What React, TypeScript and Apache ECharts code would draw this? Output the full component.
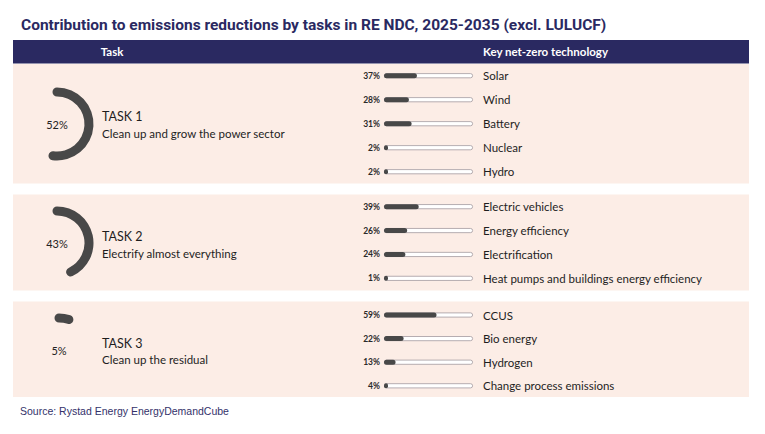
import React, { useEffect, useRef } from "react";
import * as echarts from "echarts";

const taskNames = ["TASK 1", "TASK 2", "TASK 3"];
const taskDescs = [
  "Clean up and grow the power sector",
  "Electrify almost everything",
  "Clean up the residual",
];
const taskShares = [52, 43, 5];

const tech1 = ["Solar", "Wind", "Battery", "Nuclear", "Hydro"];
const vals1 = [37, 28, 31, 2, 2];
const tech2 = [
  "Electric vehicles",
  "Energy efficiency",
  "Electrification",
  "Heat pumps and buildings energy efficiency",
];
const vals2 = [39, 26, 24, 1];
const tech3 = ["CCUS", "Bio energy", "Hydrogen", "Change process emissions"];
const vals3 = [59, 22, 13, 4];

const headerLabels = ["Task", "Key net-zero technology"];
const titleText =
  "Contribution to emissions reductions by tasks in RE NDC, 2025-2035 (excl. LULUCF)";
const sourceText = "Source: Rystad Energy EnergyDemandCube";

const NAVY = "#2a2961";
const PANEL = "#fcede6";
const DARK = "#484848";
const BODY_FONT = "Lato";

const panels = [
  { top: 64, h: 119.5 },
  { top: 194.5, h: 96 },
  { top: 301.5, h: 95.5 },
];
const gaugeCenters = [
  [57, 124],
  [57, 243],
  [59, 350],
];
const taskLabelY = [
  [116.7, 133.3],
  [236.7, 253.3],
  [343.3, 359],
];
const gridBoxes = [
  { top: 63.7, height: 120 },
  { top: 194.7, height: 95.6 },
  { top: 303.2, height: 94.4 },
];

export default function App() {
  const ref = useRef<HTMLDivElement>(null);
  useEffect(() => {
    if (!ref.current) return;
    const chart = echarts.init(ref.current, undefined, { renderer: "svg" });
    const techs = [tech1, tech2, tech3];
    const vals = [vals1, vals2, vals3];

    const grids: any[] = [];
    const xAxes: any[] = [];
    const yAxes: any[] = [];
    const series: any[] = [];

    techs.forEach((names, i) => {
      grids.push({ left: 384, width: 89, top: gridBoxes[i].top, height: gridBoxes[i].height });
      xAxes.push({ type: "value", gridIndex: i, min: 0, max: 100, show: false });
      yAxes.push({
        type: "category",
        gridIndex: i,
        data: names,
        inverse: true,
        show: false,
      });
      series.push({
        type: "bar",
        xAxisIndex: i,
        yAxisIndex: i,
        data: names.map(() => 100),
        barWidth: 5,
        barGap: "-100%",
        silent: true,
        itemStyle: {
          color: "#ffffff",
          borderColor: "#a39aa0",
          borderWidth: 0.8,
          borderRadius: 3,
        },
        label: {
          show: true,
          position: "right",
          distance: 10,
          formatter: "{b}",
          fontFamily: BODY_FONT,
          fontSize: 11.5,
          color: "#1e1e1e",
        },
        z: 2,
      });
      series.push({
        type: "bar",
        xAxisIndex: i,
        yAxisIndex: i,
        data: vals[i],
        barWidth: 5,
        barGap: "-100%",
        barMinHeight: 4,
        itemStyle: { color: DARK, borderRadius: 3 },
        label: {
          show: true,
          position: "left",
          distance: 4,
          formatter: "{c}%",
          fontFamily: BODY_FONT,
          fontSize: 8.5,
          fontWeight: "bold",
          color: "#2a2a2a",
        },
        z: 3,
      });
    });

    taskShares.forEach((v, i) => {
      series.push({
        type: "gauge",
        center: gaugeCenters[i],
        radius: 36.5,
        startAngle: 90,
        endAngle: -270,
        min: 0,
        max: 100,
        progress: { show: true, roundCap: true, width: 9, itemStyle: { color: DARK } },
        axisLine: { show: false },
        axisTick: { show: false },
        splitLine: { show: false },
        axisLabel: { show: false },
        pointer: { show: false },
        anchor: { show: false },
        title: { show: false },
        detail: {
          show: true,
          offsetCenter: [0, 0],
          formatter: "{value}%",
          fontFamily: BODY_FONT,
          fontSize: 11,
          fontWeight: "normal",
          color: "#222",
        },
        data: [{ value: v }],
      });
    });

    const graphics: any[] = [];
    graphics.push({
      type: "text",
      x: 21,
      y: 25,
      style: {
        text: titleText,
        fontFamily: "Roboto",
        fontWeight: "bold",
        fontSize: 15.5,
        fill: NAVY,
        verticalAlign: "middle",
      },
    });
    graphics.push({
      type: "rect",
      shape: { x: 13, y: 40, width: 736, height: 23.5 },
      style: { fill: NAVY },
      z: 0,
    });
    graphics.push({
      type: "text",
      x: 112,
      y: 51.7,
      style: {
        text: headerLabels[0],
        fontFamily: BODY_FONT,
        fontWeight: "bold",
        fontSize: 11.5,
        fill: "#ffffff",
        align: "center",
        verticalAlign: "middle",
      },
    });
    graphics.push({
      type: "text",
      x: 483,
      y: 51.7,
      style: {
        text: headerLabels[1],
        fontFamily: BODY_FONT,
        fontWeight: "bold",
        fontSize: 11.5,
        fill: "#ffffff",
        align: "left",
        verticalAlign: "middle",
      },
    });
    panels.forEach((p) => {
      graphics.push({
        type: "rect",
        shape: { x: 13, y: p.top, width: 736, height: p.h },
        style: { fill: PANEL },
        z: 0,
      });
    });
    taskNames.forEach((t, i) => {
      graphics.push({
        type: "text",
        x: 102,
        y: taskLabelY[i][0],
        style: {
          text: t,
          fontFamily: BODY_FONT,
          fontSize: 12.5,
          fill: "#1e1e1e",
          verticalAlign: "middle",
        },
        z: 10,
      });
      graphics.push({
        type: "text",
        x: 102,
        y: taskLabelY[i][1],
        style: {
          text: taskDescs[i],
          fontFamily: BODY_FONT,
          fontSize: 11.5,
          fill: "#1e1e1e",
          verticalAlign: "middle",
        },
        z: 10,
      });
    });
    graphics.push({
      type: "text",
      x: 20,
      y: 411,
      style: {
        text: sourceText,
        fontFamily: "Liberation Sans",
        fontSize: 10.5,
        fill: "#33326a",
        verticalAlign: "middle",
      },
    });

    chart.setOption({
      animation: false,
      backgroundColor: "#ffffff",
      grid: grids,
      xAxis: xAxes,
      yAxis: yAxes,
      series,
      graphic: graphics,
    });
    return () => chart.dispose();
  }, []);
  return (
    <div
      ref={ref}
      style={{ position: "absolute", left: 0, top: 0, width: 765, height: 434 }}
    />
  );
}
